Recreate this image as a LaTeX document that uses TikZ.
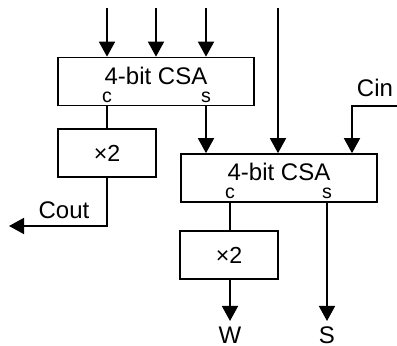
\documentclass[tikz,border=0pt]{standalone}
\usepackage{fontspec}
\setmainfont{Liberation Sans}
\usepackage{tikz}
\usetikzlibrary{arrows.meta, positioning, calc}
\tikzset{
  csabox/.style={rectangle, draw, minimum width=98pt, minimum height=24pt,
    line width=0.8pt, inner sep=0pt},
  mulbox/.style={rectangle, draw, minimum width=49pt, minimum height=24pt,
    line width=0.8pt, inner sep=0pt, font=\fontsize{11.6}{13}\selectfont},
  txt/.style={inner sep=0pt, font=\fontsize{12}{14}\selectfont},
  pin/.style={inner sep=0pt, font=\fontsize{9.8}{11}\selectfont},
  arrow/.style={-{Triangle[length=7.5pt,width=8pt]}, line width=0.8pt},
  line/.style={line width=0.8pt}
}
\begin{document}
\begin{tikzpicture}[x=0.5pt, y=-0.5pt]
  \useasboundingbox (0,0) rectangle (397,346);
  % first CSA
  \node[csabox] (csa1) at (156,81.5) {};
  \node[txt] (t1) at (156,75.5) {4-bit CSA};
  \node[pin] (c1) at (107,97) {c};
  \node[pin] (s1) at (206,97) {s};
  % first doubler
  \node[mulbox] (mul1) at (107,153) {×2};

  % second CSA
  \node[csabox] (csa2) at (279,178) {};
  \node[txt] (t2) at (279,172) {4-bit CSA};
  \node[pin] (c2) at (230,193.5) {c};
  \node[pin] (s2) at (327,193.5) {s};
  % second doubler
  \node[mulbox] (mul2) at (229,255) {×2};

  % inputs
  \coordinate (in1) at (107,8);
  \coordinate (in2) at (156,8);
  \coordinate (in3) at (206,8);
  \coordinate (in4) at (278,8);
  \coordinate (cin) at (397,106);
  \coordinate (cinc) at (352,106);
  \node[txt] (cinlbl) at (375,87.5) {Cin};

  % outputs
  \coordinate (coutc) at (107,226);
  \coordinate (cout) at (9,226);
  \node[txt] (coutlbl) at (64,210.5) {Cout};
  \coordinate (wend) at (230,321);
  \coordinate (send) at (327,321);
  \node[txt] (w) at (230,335) {W};
  \node[txt] (s) at (327,335) {S};

  % connections
  \foreach \i in {in1,in2,in3} {
    \draw[arrow] (\i) -- (\i |- csa1.north);
  }
  \draw[arrow] (in4) -- (in4 |- csa2.north);
  \draw[arrow] (s1 |- csa1.south) -- (s1 |- csa2.north);
  \draw[line] (c1 |- csa1.south) -- (mul1);
  \draw[arrow] (cin) -- (cinc) -- (cinc |- csa2.north);
  \draw[arrow] (mul1.south) -- (coutc) -- (cout);
  \draw[line] (c2 |- csa2.south) -- (c2 |- mul2.north);
  \draw[arrow] (wend |- mul2.south) -- (wend);
  \draw[arrow] (send |- csa2.south) -- (send);
\end{tikzpicture}
\end{document}
